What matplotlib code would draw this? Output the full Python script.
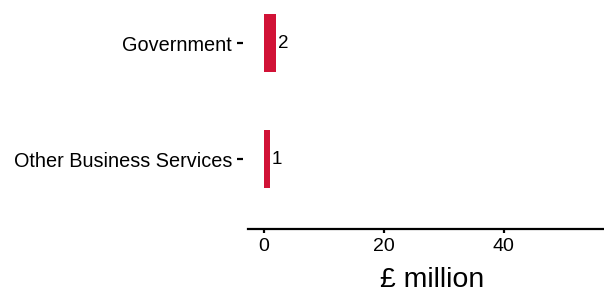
import matplotlib.pyplot as plt

categories = ["Other Business Services", "Government"]
values = [1, 2]
x_ticks = [0, 20, 40]

plt.rcParams['font.family'] = ['Liberation Sans', 'DejaVu Sans']

fig = plt.figure(figsize=(6.04, 2.95), dpi=100)
ax = fig.add_axes([248/604, 66/295, 356/604, 228.5/295])

# spines first: moving a spine resets the ticks
for s in ['top', 'right']:
    ax.spines[s].set_visible(False)
ax.spines['left'].set_position(('outward', 3.6))
ax.spines['left'].set_visible(False)
ax.spines['bottom'].set_linewidth(1.6)

pos = list(range(len(categories)))
ax.barh(pos, values, height=0.5, color='#D11236')

# value labels just right of each bar
for p, v in zip(pos, values):
    ax.text(v + 0.4, p, str(v), va='center', ha='left', fontsize=13.5, color='black')

ax.set_xlim(-2.6, 56.75)
ax.set_ylim(-0.6, 1.37)
ax.set_yticks(pos)
ax.set_yticklabels(categories)
ax.set_xticks(x_ticks)
ax.set_xticklabels([str(t) for t in x_ticks])
ax.set_xlabel("£ million", fontsize=20.5)
ax.xaxis.set_label_coords(0.517, -0.165)
ax.xaxis.label.set_va('top')

ax.tick_params(axis='y', length=4.3, width=1.6, pad=3.6, labelsize=14.3)
ax.tick_params(axis='x', length=3, width=1.6, pad=3.5, labelsize=14)

fig.savefig("out.png", dpi=100)
